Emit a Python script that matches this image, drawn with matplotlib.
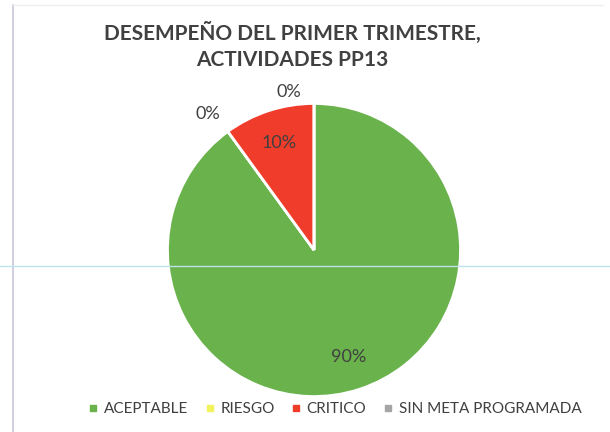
import matplotlib
matplotlib.use("Agg")
import matplotlib.pyplot as plt
import numpy as np

# datos
categorias = ['ACEPTABLE', 'RIESGO', 'CRITICO', 'SIN META PROGRAMADA']
porcentajes = [90, 0, 10, 0]
colores = ['#6AB24C', '#F2F25C', '#F03C2A', '#A5A5A5']
titulo = 'DESEMPEÑO DEL PRIMER TRIMESTRE,\nACTIVIDADES PP13'

plt.rcParams['font.family'] = ['Lato', 'DejaVu Sans']

fig = plt.figure(figsize=(6.1, 4.32), dpi=100)
fig.patch.set_facecolor('white')

# marco del grafico (escaneado)
fig.add_artist(plt.Line2D([13 / 610, 13 / 610], [0, 1 - 5 / 432], color='#C8C8D8', lw=1.2))
fig.add_artist(plt.Line2D([13 / 610, 603 / 610], [1 - 5 / 432, 1 - 5 / 432], color='#EEEEEE', lw=1))
fig.add_artist(plt.Line2D([0, 1], [1 - 266 / 432, 1 - 266 / 432], color='#BFE3EC', lw=1))

ax = fig.add_axes([(314 - 148) / 610, (432 - 250 - 148) / 432, 296 / 610, 296 / 432])
wedges, _ = ax.pie(porcentajes, colors=colores, startangle=90, counterclock=False,
                   wedgeprops=dict(edgecolor='white', linewidth=2))
ax.set_xlim(-1.01, 1.01)
ax.set_ylim(-1.01, 1.01)
ax.set_aspect('equal')

# etiquetas de datos (las de 0% quedan fuera, desplazadas como en Excel)
desplaz = {'RIESGO': (2, 1.18), 'SIN META PROGRAMADA': (9, 1.09)}
texto_color = '#404040'
for w, p, cat in zip(wedges, porcentajes, categorias):
    ang = (w.theta1 + w.theta2) / 2
    r = 0.77
    if p == 0:
        d_ang, r = desplaz[cat]
        ang = ang + d_ang
    ang = np.deg2rad(ang)
    ax.text(r * np.cos(ang), r * np.sin(ang), f'{p}%', ha='center', va='center',
            fontsize=13, color=texto_color, clip_on=False)

fig.text(292 / 610, 1 - 46 / 432, titulo, ha='center', va='center', fontsize=15,
         fontweight='bold', color='#404040', linespacing=1.35)

handles = [plt.Line2D([], [], marker='s', linestyle='none', markersize=5,
                      markerfacecolor=c, markeredgecolor=c) for c in colores]
fig.legend(handles, categorias, loc='center', bbox_to_anchor=(335 / 610, 1 - 409 / 432),
           ncol=4, frameon=False, fontsize=11, handlelength=0.6, handletextpad=0.4,
           columnspacing=1.1, labelcolor='#404040')

fig.savefig('out.png', dpi=100)
